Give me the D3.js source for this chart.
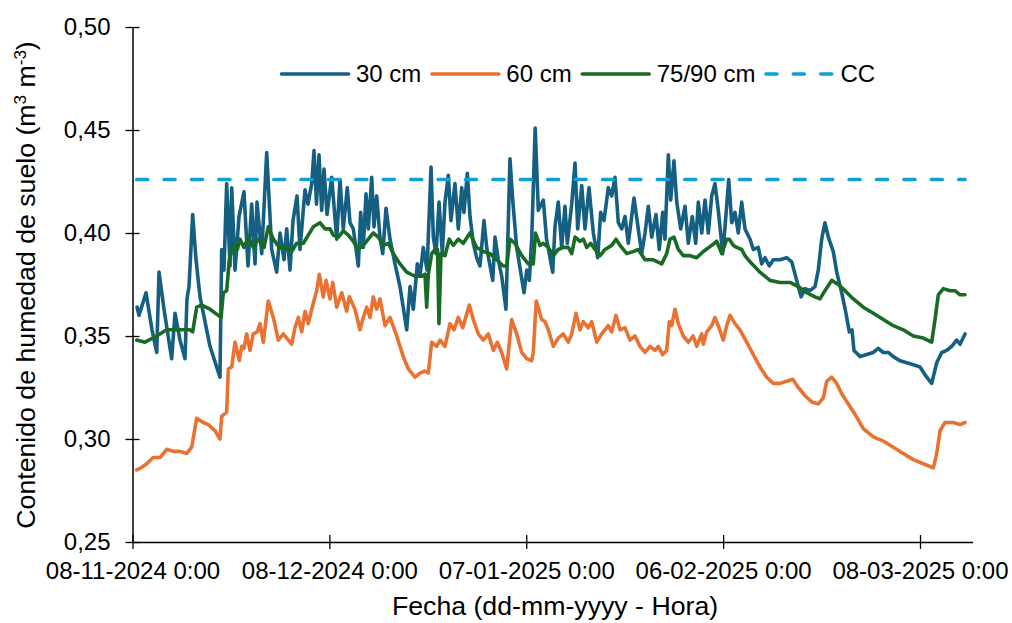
<!DOCTYPE html>
<html>
<head>
<meta charset="utf-8">
<script src="https://cdn.jsdelivr.net/npm/d3@7"></script>
<style>
  body { margin: 0; background: #fff; }
  text { font-family: "Liberation Sans", Arial, sans-serif; fill: #000; }
</style>
</head>
<body>
<div id="chart"></div>
<script>
// dias desde 08-11-2024 0:00 y contenido de humedad (m3 m-3)
var dias30 = [
  0.69, 0.99, 2.06, 2.97, 3.69, 4.04, 4.80, 5.97, 6.48, 7.24,
  8.00, 8.30, 8.61, 9.17, 9.68, 10.29, 11.81, 12.72, 13.33, 13.59,
  13.94, 14.35, 14.86, 15.12, 15.62, 16.23, 16.99, 17.60, 18.16, 18.67,
  18.97, 19.69, 20.45, 21.21, 21.97, 22.48, 23.09, 23.50, 24.00, 24.46,
  25.07, 25.52, 26.29, 26.74, 27.31, 27.66, 28.04, 28.42, 28.83, 29.18,
  29.64, 30.35, 31.12, 31.62, 32.12, 32.73, 33.14, 33.65, 34.41, 34.77,
  35.17, 35.58, 35.93, 36.45, 36.80, 37.21, 37.71, 38.13, 38.63, 39.24,
  40.00, 40.76, 41.78, 42.29, 42.79, 43.40, 43.81, 44.31, 44.88, 45.49,
  45.84, 46.25, 46.71, 47.21, 47.62, 48.12, 48.53, 49.14, 49.65, 50.17,
  50.51, 51.02, 51.43, 51.93, 52.45, 52.95, 53.56, 53.97, 54.89, 55.24,
  55.74, 56.26, 56.91, 57.27, 57.52, 57.94, 58.54, 59.15, 59.66, 60.07,
  60.47, 60.83, 61.36, 61.84, 62.60, 63.09, 63.51, 64.03, 64.38, 64.88,
  65.40, 65.90, 66.26, 66.93, 67.43, 67.84, 68.45, 68.95, 69.56, 70.22,
  70.89, 71.34, 71.85, 72.50, 73.02, 73.52, 74.03, 74.55, 75.05, 75.55,
  76.42, 77.07, 77.59, 78.10, 78.60, 79.12, 79.77, 80.27, 80.79, 81.14,
  81.65, 82.01, 82.51, 82.93, 83.54, 84.19, 84.69, 85.30, 85.82, 86.22,
  86.74, 87.24, 87.74, 88.26, 88.76, 89.26, 89.94, 90.29, 90.85, 91.31,
  91.81, 92.31, 92.83, 93.33, 94.10, 94.60, 95.36, 95.88, 96.38, 97.04,
  97.65, 98.67, 99.69, 100.45, 101.21, 101.87, 102.48, 103.24, 104.00, 104.50,
  105.02, 105.52, 106.03, 106.79, 107.31, 108.07, 108.72, 109.23, 109.64, 109.94,
  110.86, 111.88, 112.88, 113.64, 114.41, 115.17, 115.93, 116.95, 117.97, 118.98,
  120.00, 121.02, 121.78, 122.55, 123.31, 124.07, 124.83, 125.59, 126.10, 126.86
];
var hum30 = [
  0.364, 0.360, 0.371, 0.353, 0.342, 0.381, 0.363, 0.339, 0.361, 0.348,
  0.339, 0.368, 0.374, 0.409, 0.387, 0.369, 0.345, 0.336, 0.330, 0.392,
  0.382, 0.424, 0.384, 0.422, 0.382, 0.408, 0.420, 0.384, 0.414, 0.385,
  0.415, 0.390, 0.439, 0.392, 0.381, 0.400, 0.387, 0.402, 0.382, 0.406,
  0.418, 0.392, 0.421, 0.414, 0.424, 0.440, 0.414, 0.438, 0.411, 0.431,
  0.409, 0.427, 0.397, 0.426, 0.402, 0.422, 0.405, 0.402, 0.384, 0.410,
  0.393, 0.419, 0.402, 0.427, 0.403, 0.418, 0.398, 0.390, 0.412, 0.397,
  0.385, 0.374, 0.353, 0.374, 0.363, 0.385, 0.379, 0.393, 0.382, 0.432,
  0.398, 0.390, 0.415, 0.390, 0.415, 0.428, 0.406, 0.424, 0.402, 0.422,
  0.410, 0.429, 0.408, 0.395, 0.388, 0.384, 0.406, 0.393, 0.377, 0.398,
  0.387, 0.379, 0.363, 0.406, 0.436, 0.416, 0.393, 0.381, 0.371, 0.382,
  0.377, 0.397, 0.451, 0.411, 0.416, 0.397, 0.390, 0.381, 0.403, 0.415,
  0.393, 0.413, 0.395, 0.414, 0.434, 0.402, 0.423, 0.402, 0.422, 0.400,
  0.388, 0.410, 0.406, 0.422, 0.418, 0.427, 0.405, 0.402, 0.408, 0.395,
  0.417, 0.402, 0.390, 0.400, 0.413, 0.398, 0.409, 0.392, 0.410, 0.397,
  0.438, 0.416, 0.435, 0.415, 0.402, 0.413, 0.395, 0.408, 0.395, 0.415,
  0.400, 0.416, 0.400, 0.418, 0.424, 0.411, 0.390, 0.403, 0.426, 0.405,
  0.410, 0.400, 0.415, 0.402, 0.397, 0.392, 0.393, 0.385, 0.388, 0.384,
  0.387, 0.387, 0.388, 0.386, 0.377, 0.369, 0.373, 0.372, 0.374, 0.382,
  0.397, 0.405, 0.398, 0.391, 0.381, 0.371, 0.361, 0.352, 0.353, 0.343,
  0.340, 0.341, 0.342, 0.344, 0.342, 0.342, 0.340, 0.338, 0.337, 0.336,
  0.335, 0.330, 0.327, 0.337, 0.342, 0.343, 0.345, 0.348, 0.346, 0.351
];

var dias60 = [
  0.64, 1.30, 2.16, 3.17, 4.19, 5.21, 6.22, 7.24, 8.26, 9.02,
  9.78, 10.79, 11.55, 12.57, 13.33, 13.59, 14.35, 14.60, 15.12, 15.62,
  16.27, 16.64, 16.99, 17.40, 17.90, 18.41, 19.02, 19.43, 19.93, 20.69,
  21.46, 22.22, 22.98, 23.50, 24.26, 24.76, 25.27, 25.78, 26.29, 26.79,
  27.55, 28.07, 28.46, 29.07, 29.49, 30.10, 30.51, 31.12, 31.88, 32.64,
  33.04, 33.90, 34.67, 35.17, 35.69, 36.19, 36.69, 37.21, 37.71, 38.48,
  39.24, 40.26, 41.26, 42.03, 43.05, 43.81, 44.57, 45.08, 45.59, 46.35,
  46.86, 47.62, 48.38, 48.99, 49.65, 50.32, 51.32, 51.93, 52.69, 53.46,
  54.22, 54.98, 55.59, 56.26, 57.02, 57.78, 58.54, 59.31, 60.07, 60.83,
  61.07, 61.53, 62.35, 62.86, 63.36, 64.12, 64.88, 65.65, 66.41, 66.93,
  67.58, 68.19, 68.70, 69.46, 69.97, 70.74, 71.50, 72.50, 73.02, 73.68,
  74.29, 75.05, 75.81, 76.57, 77.33, 78.10, 78.86, 79.62, 80.12, 80.79,
  81.40, 81.80, 82.16, 82.67, 83.17, 83.93, 84.69, 85.45, 85.97, 86.74,
  86.98, 87.50, 88.26, 88.76, 89.26, 90.03, 90.55, 91.05, 91.81, 92.57,
  93.59, 94.60, 95.62, 96.64, 97.65, 98.67, 99.69, 100.60, 101.46, 102.48,
  103.50, 104.50, 105.27, 105.78, 106.54, 107.31, 108.07, 109.08, 110.10, 111.36,
  112.88, 114.41, 115.93, 117.45, 118.98, 120.50, 122.03, 122.55, 123.05, 123.81,
  125.07, 126.10, 126.86
];
var hum60 = [
  0.285, 0.286, 0.288, 0.291, 0.291, 0.295, 0.294, 0.294, 0.293, 0.296,
  0.310, 0.308, 0.307, 0.304, 0.300, 0.311, 0.313, 0.334, 0.335, 0.347,
  0.338, 0.345, 0.344, 0.351, 0.343, 0.351, 0.352, 0.356, 0.347, 0.367,
  0.359, 0.348, 0.351, 0.349, 0.346, 0.354, 0.359, 0.352, 0.362, 0.356,
  0.366, 0.372, 0.380, 0.369, 0.377, 0.368, 0.376, 0.364, 0.371, 0.362,
  0.369, 0.363, 0.353, 0.359, 0.364, 0.359, 0.369, 0.363, 0.368, 0.355,
  0.359, 0.350, 0.340, 0.334, 0.330, 0.332, 0.333, 0.332, 0.347, 0.345,
  0.348, 0.345, 0.356, 0.353, 0.359, 0.354, 0.365, 0.358, 0.351, 0.348,
  0.351, 0.343, 0.347, 0.342, 0.334, 0.358, 0.351, 0.342, 0.339, 0.338,
  0.342, 0.367, 0.358, 0.357, 0.353, 0.345, 0.349, 0.351, 0.347, 0.351,
  0.361, 0.353, 0.357, 0.354, 0.357, 0.347, 0.351, 0.355, 0.352, 0.360,
  0.353, 0.354, 0.348, 0.350, 0.345, 0.342, 0.345, 0.343, 0.345, 0.341,
  0.343, 0.357, 0.355, 0.363, 0.356, 0.350, 0.347, 0.350, 0.345, 0.351,
  0.346, 0.352, 0.355, 0.359, 0.355, 0.348, 0.355, 0.360, 0.356, 0.353,
  0.347, 0.341, 0.335, 0.330, 0.327, 0.327, 0.328, 0.329, 0.325, 0.321,
  0.318, 0.317, 0.320, 0.328, 0.330, 0.327, 0.322, 0.317, 0.312, 0.305,
  0.301, 0.299, 0.296, 0.293, 0.290, 0.288, 0.286, 0.293, 0.304, 0.308,
  0.308, 0.307, 0.308
];

var dias7590 = [
  0.64, 1.90, 3.69, 5.21, 6.98, 8.76, 9.17, 9.78, 10.54, 11.81,
  13.07, 13.49, 13.84, 14.35, 14.75, 15.36, 15.97, 16.38, 16.99, 17.65,
  18.41, 19.17, 20.04, 20.69, 21.46, 22.37, 23.50, 24.26, 25.02, 26.03,
  27.55, 28.57, 29.33, 30.10, 30.60, 31.36, 32.12, 32.88, 33.65, 34.41,
  35.17, 35.93, 36.69, 37.46, 38.22, 38.98, 39.74, 40.76, 41.78, 43.05,
  44.07, 44.57, 44.83, 45.08, 45.59, 46.10, 46.48, 46.70, 47.01, 47.62,
  48.27, 48.88, 49.65, 50.41, 51.43, 52.45, 53.46, 54.48, 55.50, 56.50,
  57.02, 57.52, 58.29, 59.31, 60.31, 61.07, 61.41, 62.10, 62.60, 63.36,
  64.12, 64.88, 65.65, 66.41, 66.93, 67.43, 68.19, 68.70, 69.21, 69.82,
  70.48, 71.24, 72.00, 73.02, 73.68, 74.29, 75.31, 76.31, 77.07, 78.10,
  79.36, 80.64, 81.40, 81.90, 82.51, 83.17, 83.93, 84.95, 85.97, 86.98,
  88.26, 89.02, 89.79, 90.55, 90.94, 91.55, 92.07, 92.83, 93.33, 94.10,
  95.62, 97.14, 98.67, 100.19, 101.46, 102.74, 104.00, 104.76, 105.52, 106.54,
  107.55, 108.57, 109.84, 111.36, 112.88, 114.41, 115.93, 117.45, 118.98, 120.50,
  121.78, 122.29, 122.79, 123.55, 124.57, 125.33, 126.10, 126.86
];
var hum7590 = [
  0.348, 0.347, 0.350, 0.353, 0.353, 0.353, 0.352, 0.364, 0.365, 0.363,
  0.360, 0.359, 0.371, 0.372, 0.387, 0.394, 0.392, 0.397, 0.393, 0.398,
  0.393, 0.397, 0.393, 0.403, 0.397, 0.393, 0.393, 0.391, 0.395, 0.395,
  0.403, 0.405, 0.402, 0.402, 0.399, 0.398, 0.401, 0.399, 0.396, 0.392,
  0.394, 0.397, 0.400, 0.398, 0.394, 0.395, 0.390, 0.385, 0.381, 0.379,
  0.379, 0.380, 0.364, 0.380, 0.390, 0.392, 0.392, 0.356, 0.390, 0.389,
  0.397, 0.394, 0.397, 0.395, 0.400, 0.393, 0.391, 0.390, 0.387, 0.384,
  0.384, 0.397, 0.395, 0.389, 0.385, 0.385, 0.400, 0.394, 0.395, 0.393,
  0.389, 0.392, 0.393, 0.393, 0.390, 0.398, 0.396, 0.397, 0.393, 0.395,
  0.392, 0.389, 0.392, 0.394, 0.397, 0.394, 0.390, 0.391, 0.392, 0.387,
  0.387, 0.385, 0.390, 0.397, 0.398, 0.392, 0.389, 0.389, 0.388, 0.391,
  0.394, 0.396, 0.390, 0.397, 0.397, 0.394, 0.393, 0.392, 0.389, 0.386,
  0.381, 0.377, 0.376, 0.376, 0.374, 0.371, 0.369, 0.368, 0.372, 0.377,
  0.375, 0.372, 0.368, 0.364, 0.361, 0.358, 0.355, 0.353, 0.350, 0.349,
  0.347, 0.358, 0.370, 0.373, 0.372, 0.372, 0.370, 0.370
];

// capacidad de campo (CC)
var diasCC = [0.64, 126.86];
var humCC = [0.426, 0.426];

var nombres = ["30 cm", "60 cm", "75/90 cm", "CC"];
var colores = ["#156082", "#E97132", "#196B24", "#0F9ED5"];

var ticksFecha = ["2024-11-08", "2024-12-08", "2025-01-07", "2025-02-06", "2025-03-08"];
var fechaFin = "2025-03-16";
var ticksHum = [0.25, 0.30, 0.35, 0.40, 0.45, 0.50];

var svgWidth = 1012;
var svgHeight = 623;
var margin = { top: 27, right: 39.5, bottom: 81, left: 132.5 };
var width = svgWidth - margin.left - margin.right;
var height = svgHeight - margin.top - margin.bottom;

var parseFecha = d3.utcParse("%Y-%m-%d");
var inicio = parseFecha(ticksFecha[0]);
function aFecha(d) { return new Date(inicio.getTime() + d * 86400000); }

var es = d3.formatLocale({ decimal: ",", thousands: ".", grouping: [3], currency: ["", " €"] });

var svg = d3.select("#chart")
  .append("svg")
  .attr("width", svgWidth)
  .attr("height", svgHeight);

var chartGroup = svg.append("g")
  .attr("transform", `translate(${margin.left}, ${margin.top})`);

var xScale = d3.scaleUtc()
  .domain([inicio, parseFecha(fechaFin)])
  .range([0, width]);

var yScale = d3.scaleLinear()
  .domain([0.25, 0.50])
  .range([height, 0]);

// ejes
var xAxis = chartGroup.append("g")
  .attr("transform", `translate(0, ${height})`)
  .call(d3.axisBottom(xScale)
    .tickValues(ticksFecha.map(parseFecha))
    .tickFormat(d3.utcFormat("%d-%m-%Y %-H:%M"))
    .tickSize(7)
    .tickSizeOuter(0)
    .tickPadding(13));

var yAxis = chartGroup.append("g")
  .call(d3.axisLeft(yScale)
    .tickValues(ticksHum)
    .tickFormat(es.format(".2f"))
    .tickSize(7)
    .tickSizeOuter(0)
    .tickPadding(15));

[xAxis, yAxis].forEach(function(ax) {
  ax.attr("font-family", null).attr("font-size", null);
  ax.select(".domain").attr("stroke", "#000").attr("stroke-width", 1.5);
  ax.selectAll(".tick line").attr("stroke", "#000").attr("stroke-width", 1.3);
  ax.selectAll(".tick text").attr("font-size", 24).attr("fill", "#000");
});
xAxis.selectAll(".tick line").attr("y1", -7);
yAxis.selectAll(".tick line").attr("x1", 7);

// series
var series = [
  { dias: dias30, hum: hum30 },
  { dias: dias60, hum: hum60 },
  { dias: dias7590, hum: hum7590 },
  { dias: diasCC, hum: humCC }
];

var line = d3.line()
  .x(d => xScale(d.fecha))
  .y(d => yScale(d.valor));

series.forEach(function(s, i) {
  var pts = s.dias.map((d, j) => ({ fecha: aFecha(d), valor: s.hum[j] }));
  var path = chartGroup.append("path")
    .datum(pts)
    .attr("d", line)
    .attr("fill", "none")
    .attr("stroke", colores[i])
    .attr("stroke-width", 3.6)
    .attr("stroke-linejoin", "round")
    .attr("stroke-linecap", "round");
  if (nombres[i] == "CC") {
    path.attr("stroke-dasharray", "11,16.4");
  }
});

// leyenda
var legend = svg.append("g").attr("transform", "translate(280, 74)");
var lx = 0;
nombres.forEach(function(n, i) {
  var l = legend.append("line")
    .attr("x1", lx + 1.5).attr("x2", lx + 68.5)
    .attr("y1", 0).attr("y2", 0)
    .attr("stroke", colores[i])
    .attr("stroke-width", 3.6)
    .attr("stroke-linecap", "round");
  if (n == "CC") l.attr("stroke-dasharray", "11,16.4");
  var t = legend.append("text")
    .attr("x", lx + 76)
    .attr("y", 0)
    .attr("dy", "0.35em")
    .attr("font-size", 24)
    .text(n);
  lx = lx + 76 + t.node().getComputedTextLength() + 9;
});

// titulos de ejes
svg.append("text")
  .attr("x", 555)
  .attr("y", 615)
  .attr("text-anchor", "middle")
  .attr("font-size", 26.7)
  .text("Fecha (dd-mm-yyyy - Hora)");

var yt = svg.append("text")
  .attr("transform", "rotate(-90)")
  .attr("x", -285)
  .attr("y", 35)
  .attr("text-anchor", "middle")
  .attr("font-size", 26.7);
yt.append("tspan").text("Contenido de humedad de suelo (m");
yt.append("tspan").attr("baseline-shift", "super").attr("font-size", 17).text("3");
yt.append("tspan").text(" m");
yt.append("tspan").attr("baseline-shift", "super").attr("font-size", 17).text("-3");
yt.append("tspan").text(")");
</script>
</body>
</html>
